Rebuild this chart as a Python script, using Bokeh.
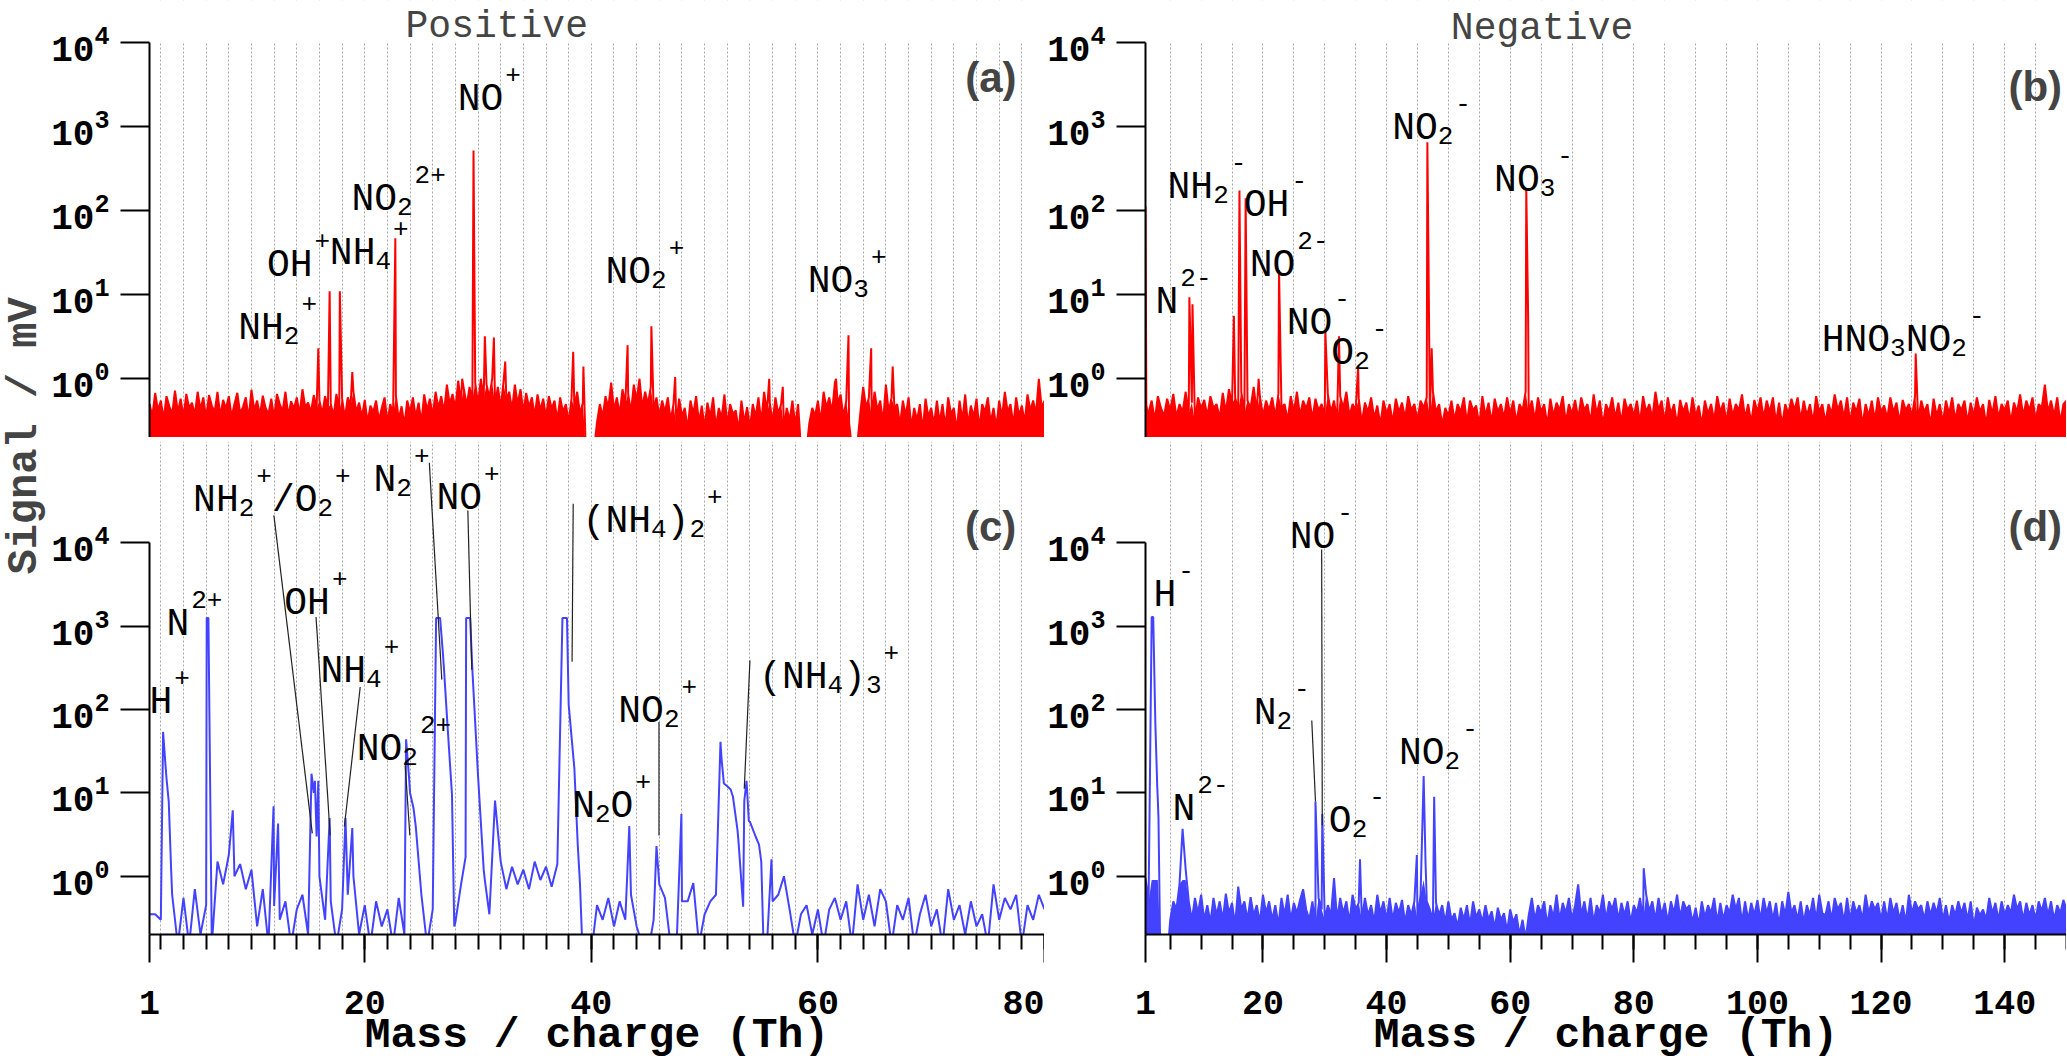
import numpy as np
from bokeh.core.properties import value
from bokeh.embed import file_html
from bokeh.layouts import column, row
from bokeh.models import BoxAnnotation, ColumnDataSource, FixedTicker, Label, Range1d
from bokeh.plotting import figure
from bokeh.resources import INLINE

RED = "#ff0000"
BLUE = "#4343ff"
MONO = "Liberation Mono"

# ---------------- (a) positive ions, red ----------------
# spectrum read every 0.25 Th from m/z 1, plus the sharp peak tops in between
a_step = 0.25
a_base = [
    0.5, 0.36, 0.68, 0.42, 0.55, 0.33, 0.62, 0.47, 0.38, 0.72, 0.4, 0.58, 0.35, 0.66, 0.45, 0.52, 0.37, 0.7, 0.43, 0.6,
    0.34, 0.64, 0.48, 0.4, 0.7, 0.36, 0.56, 0.44, 0.62, 0.35, 0.5, 0.68, 0.39, 0.46, 0.6, 0.33, 0.74, 0.42, 0.55, 0.37,
    0.63, 0.45, 0.38, 0.58, 0.34, 0.66, 0.5, 0.41, 0.7, 0.36, 0.54, 0.44, 0.6, 0.38, 0.75, 0.46, 0.52, 0.4, 0.64, 0.44,
    0.55, 0.38, 0.62, 0.45, 0.5, 0.36, 0.66, 0.42, 0.58, 0.34, 0.6, 0.48, 0.7, 0.4, 0.52, 0.35, 0.56, 0.3, 0.48, 0.4,
    0.55, 0.32, 0.45, 0.6, 0.3, 0.5, 0.38, 0.62, 0.33, 0.47, 0.28, 0.55, 0.4, 0.6, 0.35, 0.52, 0.3, 0.65, 0.42, 0.58,
    0.36, 0.7, 0.45, 0.62, 0.4, 0.85, 0.5, 0.66, 0.44, 0.95, 0.52, 0.75, 0.48, 0.8, 0.55, 0.9, 0.5, 1.0, 0.58, 0.85,
    0.6, 1.0, 0.5, 0.8, 0.45, 0.92, 0.55, 0.7, 0.42, 0.85, 0.5, 0.75, 0.4, 0.68, 0.46, 0.6, 0.36, 0.65, 0.42, 0.58,
    0.35, 0.62, 0.44, 0.55, 0.32, 0.6, 0.4, 0.5, 0.3, 0.58, 0.45, 0.7, 0.38, 0.52, 0.15, 0.2, 0.15, 0.15, 0.3, 0.5,
    0.35, 0.62, 0.45, 0.9, 0.42, 0.6, 0.38, 0.75, 0.5, 0.66, 0.4, 0.85, 0.55, 1.0, 0.45, 0.7, 0.5, 0.8, 0.42, 0.6,
    0.36, 0.55, 0.4, 0.6, 0.32, 0.5, 0.28, 0.58, 0.36, 0.45, 0.25, 0.55, 0.38, 0.62, 0.3, 0.48, 0.26, 0.52, 0.35, 0.6,
    0.26, 0.45, 0.34, 0.65, 0.28, 0.5, 0.38, 0.42, 0.24, 0.55, 0.3, 0.46, 0.26, 0.5, 0.35, 0.6, 0.3, 0.7, 0.4, 0.52,
    0.3, 0.6, 0.38, 0.5, 0.26, 0.45, 0.32, 0.55, 0.28, 0.5, 0.15, 0.18, 0.15, 0.3, 0.45, 0.36, 0.55, 0.3, 0.7, 0.45,
    0.6, 0.4, 0.9, 0.5, 0.65, 0.35, 0.55, 0.3, 0.15, 0.15, 0.18, 0.4, 0.8, 0.45, 0.6, 0.35, 0.7, 0.42, 0.55, 0.3,
    0.85, 0.4, 0.6, 0.45, 0.5, 0.28, 0.55, 0.36, 0.6, 0.26, 0.45, 0.32, 0.5, 0.24, 0.58, 0.35, 0.45, 0.28, 0.55, 0.3,
    0.5, 0.26, 0.6, 0.38, 0.45, 0.24, 0.55, 0.32, 0.65, 0.28, 0.48, 0.35, 0.58, 0.25, 0.5, 0.4, 0.6, 0.3, 0.45, 0.26,
    0.55, 0.35, 0.7, 0.4, 0.5, 0.28, 0.6, 0.36, 0.48, 0.3, 0.65, 0.42, 0.55, 0.38, 1.0, 0.45, 0.55,
]
a_peak_mz = [15.9, 16.9, 17.8, 18.9, 22.7, 28.6, 29.6, 30.6, 31.4, 32.4, 38.4, 39.3,
             43.2, 45.3, 47.4, 55.7, 56.9, 61.6, 62.7, 64.7, 66.6]
a_peak_int = [2.3, 11, 11, 1.2, 47, 1.0, 520, 3.2, 3.1, 1.6, 2.1, 1.4,
              2.5, 4.2, 1.05, 1.0, 0.8, 1.0, 3.3, 2.3, 1.4]
a_lab_text = ["NH_2^+", "OH^+", "NH_4^+", "NO_2^{2+}", "NO^+", "NO_2^+", "NO_3^+"]
a_lab_mz = [8.83, 11.37, 16.92, 18.82, 28.2, 41.25, 59.1]
a_lab_y = [3.94, 22.1, 30.8, 135, 2080, 18.3, 14.3]

# ---------------- (b) negative ions, red ----------------
b_step = 0.5
b_base = [
    0.6, 0.4, 0.55, 0.32, 0.62, 0.45, 0.36, 0.58, 0.42, 0.66, 0.35, 0.5, 0.4, 0.7, 0.38, 0.52, 0.3, 0.6, 0.44, 0.56,
    0.36, 0.62, 0.45, 0.5, 0.34, 0.68, 0.4, 0.75, 0.5, 0.6, 0.42, 0.7, 0.38, 0.55, 0.45, 0.8, 0.4, 0.62, 0.36, 0.55,
    0.42, 0.6, 0.35, 0.66, 0.45, 0.5, 0.32, 0.62, 0.4, 0.7, 0.36, 0.55, 0.44, 0.6, 0.33, 0.58, 0.42, 0.5, 0.36, 0.65,
    0.4, 0.55, 0.32, 0.62, 0.45, 0.7, 0.36, 0.5, 0.42, 0.58, 0.3, 0.52, 0.4, 0.6, 0.34, 0.48, 0.28, 0.55, 0.38, 0.5,
    0.3, 0.58, 0.4, 0.52, 0.34, 0.62, 0.42, 0.5, 0.32, 0.55, 0.45, 0.6, 0.36, 0.7, 0.4, 0.5, 0.28, 0.45, 0.36, 0.55,
    0.32, 0.5, 0.4, 0.6, 0.3, 0.55, 0.42, 0.48, 0.28, 0.62, 0.36, 0.52, 0.3, 0.58, 0.4, 0.5, 0.34, 0.6, 0.38, 0.55,
    0.3, 0.5, 0.42, 0.7, 0.38, 0.55, 0.32, 0.6, 0.4, 0.5, 0.28, 0.58, 0.36, 0.52, 0.42, 0.62, 0.3, 0.5, 0.38, 0.56,
    0.34, 0.6, 0.42, 0.5, 0.3, 0.65, 0.38, 0.55, 0.28, 0.5, 0.4, 0.6, 0.34, 0.52, 0.3, 0.58, 0.42, 0.5, 0.36, 0.55,
    0.3, 0.62, 0.4, 0.5, 0.34, 0.7, 0.42, 0.55, 0.3, 0.6, 0.38, 0.5, 0.28, 0.56, 0.4, 0.52, 0.32, 0.6, 0.36, 0.48,
    0.28, 0.55, 0.38, 0.5, 0.32, 0.62, 0.4, 0.52, 0.3, 0.58, 0.36, 0.5, 0.42, 0.65, 0.34, 0.5, 0.3, 0.56, 0.4, 0.6,
    0.34, 0.55, 0.4, 0.6, 0.3, 0.52, 0.28, 0.5, 0.38, 0.58, 0.42, 0.6, 0.32, 0.55, 0.36, 0.5, 0.3, 0.62, 0.4, 0.5,
    0.3, 0.5, 0.38, 0.65, 0.42, 0.55, 0.34, 0.6, 0.3, 0.52, 0.4, 0.58, 0.28, 0.5, 0.36, 0.55, 0.32, 0.6, 0.4, 0.48,
    0.34, 0.6, 0.4, 0.52, 0.3, 0.56, 0.42, 0.5, 0.36, 0.62, 0.32, 0.55, 0.4, 0.5, 0.28, 0.58, 0.36, 0.5, 0.3, 0.55,
    0.38, 0.6, 0.32, 0.5, 0.42, 0.55, 0.3, 0.52, 0.36, 0.6, 0.4, 0.5, 0.28, 0.56, 0.38, 0.62, 0.34, 0.5, 0.42, 0.55,
    0.3, 0.52, 0.4, 0.65, 0.36, 0.55, 0.42, 0.6, 0.32, 0.5, 0.45, 0.85, 0.4, 0.55, 0.36, 0.6, 0.3, 0.5, 0.55,
]
b_peak_mz = [1.0, 1.15, 8.1, 8.6, 15.3, 16.2, 17.2, 19.3, 22.6, 30.1, 32.3, 35.4,
             46.6, 46.8, 47.3, 62.6, 62.9, 125.6]
b_peak_int = [112, 0.3, 9.3, 7.7, 5.6, 174, 140, 1.0, 19.5, 3.6, 3.2, 1.4,
              650, 20, 2.3, 186, 5.8, 2.0]
b_lab_text = ["N^{2-}", "NH_2^-", "OH^-", "NO^{2-}", "NO^-", "O_2^-", "NO_2^-", "NO_3^-", "HNO_3NO_2^-"]
b_lab_mz = [2.62, 4.57, 16.9, 17.86, 23.85, 31.07, 40.9, 57.4, 110.4]
b_lab_y = [8.0, 189, 115, 22.1, 4.52, 1.99, 946, 228, 2.83]

# ---------------- (c) positive ions, blue ----------------
c_step = 0.5
c_base = [
    0.35, 0.35, 0.3, 15, 0.6, 0.15, 0.55, 0.15, 0.7, 0.2,
    0.45, 0.15, 1.5, 0.8, 1.8, 1.0, 1.4, 0.7, 1.2, 0.25,
    0.7, 0.15, 0.44, 0.3, 0.5, 0.15, 0.4, 0.6, 0.2, 10,
    1.0, 0.3, 0.5, 0.15, 0.4, 0.6, 1.0, 0.2, 0.45, 0.15,
    0.5, 0.25, 0.4, 0.15, 0.55, 0.2, 10, 4, 0.6, 0.15,
    0.4, 1260, 300, 25, 0.28, 0.8, 1260, 300, 16, 1.2,
    0.35, 8.1, 1.5, 0.7, 1.3, 0.8, 1.2, 0.7, 1.5, 0.9,
    1.3, 0.75, 1.4, 1260, 115, 20, 0.8, 0.1, 0.12, 0.45,
    0.3, 0.55, 0.25, 0.5, 0.3, 0.6, 0.25, 0.15, 0.12, 0.3,
    0.8, 0.55, 0.15, 0.12, 0.5, 0.5, 0.83, 0.15, 0.35, 0.5,
    0.6, 25, 12, 9, 2.5, 8, 4.5, 3.0, 1.5, 0.15,
    0.5, 0.6, 1.0, 0.4, 0.15, 0.35, 0.45, 0.2, 0.4, 0.15,
    0.4, 0.55, 0.3, 0.5, 0.15, 0.8, 0.3, 0.6, 0.25, 0.7,
    0.5, 0.15, 0.45, 0.3, 0.55, 0.15, 0.35, 0.6, 0.25, 0.4,
    0.15, 0.7, 0.3, 0.45, 0.2, 0.5, 0.25, 0.35, 0.15, 0.8,
    0.3, 0.55, 0.4, 0.6, 0.15, 0.45, 0.3, 0.6, 0.4,
]
c_peak_mz = [2.2, 2.35, 2.7, 2.9, 6.05, 6.2, 8.35, 11.95, 12.35, 15.3, 15.6, 15.75, 15.9,
             16.9, 18.3, 18.9, 23.65, 23.9, 24.3, 26.3, 26.65, 26.9, 27.3, 27.7, 27.9,
             28.9, 28.95, 29.3, 30.6, 37.45, 37.85, 38.4, 38.8, 39.2, 43.35, 45.75, 47.95,
             51.4, 51.7, 52.3, 52.9, 53.4, 53.7, 53.9, 54.8, 55.2, 55.9]
c_peak_int = [54, 28, 7.8, 1.3, 1260, 1260, 6.2, 6.9, 4.3, 17, 14, 3, 14,
              5, 5, 3.8, 44, 16, 6.6, 1260, 1260, 470, 66, 9.5, 0.25,
              1.7, 1260, 1260, 0.9, 1260, 1260, 28, 2.4, 0.15, 4.0, 2.3, 5.6,
              41, 13, 11, 3.6, 0.43, 14, 4.6, 2.4, 0.15, 1.6]
c_lab_text = ["H^+", "N^{2+}", "NH_2^+/O_2^+", "N_2^+", "NO^+", "(NH_4)_2^+", "OH^+",
              "NH_4^+", "NO_2^{2+}", "N_2O^+", "NO_2^+", "(NH_4)_3^+"]
c_lab_mz = [1.0, 2.49, 4.85, 20.77, 26.33, 39.23, 12.9, 16.09, 19.29, 38.31, 42.38, 54.81]
c_lab_y = [121, 1042, 32700, 56700, 33900, 18300, 1885, 285, 33.2, 6.79, 94.6, 244]
c_lead_x0 = [11.98, 15.7, 19.6, 23.57, 25.7, 29.1, 38.4, 45.97, 54.0]
c_lead_y0 = [21400, 1290, 187, 21.4, 91600, 24500, 29500, 71, 390]
c_lead_x1 = [15.37, 16.95, 18.2, 23.98, 26.8, 29.45, 38.3, 45.97, 53.5]
c_lead_y1 = [3.27, 3.09, 3.96, 3.09, 229, 300, 376, 3.09, 11.2]

# ---------------- (d) negative ions, blue ----------------
d_step = 0.5
d_base = [
    0.95, 0.5, 1290, 150, 8, 0.1, 0.1, 0.1, 0.3, 0.5, 0.4, 0.8, 3.7, 1.2, 0.5, 0.3, 0.55, 0.36, 0.6, 0.3,
    0.45, 0.28, 0.55, 0.34, 0.5, 0.3, 0.62, 0.36, 0.48, 0.26, 0.75, 0.4, 0.5, 0.3, 0.56, 0.34, 0.45, 0.28, 0.6, 0.36,
    0.5, 0.3, 0.45, 0.26, 0.55, 0.34, 0.6, 0.3, 0.48, 0.36, 0.52, 0.7, 0.4, 0.3, 0.5, 0.28, 0.55, 0.4, 0.3, 0.45,
    0.34, 0.95, 0.3, 0.55, 0.36, 0.5, 0.28, 0.6, 0.4, 0.48, 0.3, 0.55, 0.34, 0.45, 0.28, 0.6, 0.36, 0.5, 0.3, 0.55,
    0.3, 0.48, 0.36, 0.52, 0.28, 0.45, 0.34, 0.5, 0.3, 0.6, 16, 0.5, 0.4, 0.3, 0.48, 0.34, 0.45, 0.28, 0.5, 0.3,
    0.36, 0.25, 0.42, 0.3, 0.45, 0.26, 0.5, 0.32, 0.4, 0.28, 0.45, 0.3, 0.38, 0.24, 0.42, 0.3, 0.36, 0.22, 0.4, 0.28,
    0.35, 0.2, 0.3, 0.18, 0.34, 0.55, 0.3, 0.45, 0.36, 0.5, 0.26, 0.45, 0.32, 0.6, 0.3, 0.48, 0.36, 0.55, 0.3, 0.45,
    0.8, 0.34, 0.5, 0.3, 0.55, 0.28, 0.45, 0.36, 0.6, 0.3, 0.5, 0.4, 0.55, 0.3, 0.48, 0.34, 0.5, 0.28, 0.45, 0.36,
    0.55, 0.3, 0.6, 0.38, 0.5, 0.3, 0.55, 0.34, 0.48, 0.28, 0.5, 0.36, 0.6, 0.32, 0.5, 0.4, 0.45, 0.28, 0.42, 0.26,
    0.5, 0.32, 0.45, 0.36, 0.55, 0.28, 0.48, 0.3, 0.45, 0.36, 0.6, 0.4, 0.55, 0.28, 0.5, 0.3, 0.48, 0.34, 0.52, 0.3,
    0.55, 0.36, 0.5, 0.3, 0.48, 0.26, 0.5, 0.34, 0.65, 0.36, 0.45, 0.3, 0.5, 0.28, 0.45, 0.34, 0.55, 0.3, 0.6, 0.36,
    0.34, 0.5, 0.3, 0.55, 0.4, 0.48, 0.28, 0.55, 0.3, 0.5, 0.36, 0.45, 0.3, 0.6, 0.36, 0.5, 0.4, 0.48, 0.3, 0.5,
    0.3, 0.55, 0.36, 0.48, 0.3, 0.45, 0.28, 0.6, 0.36, 0.5, 0.4, 0.45, 0.3, 0.5, 0.34, 0.48, 0.36, 0.55, 0.3, 0.45,
    0.28, 0.45, 0.34, 0.5, 0.36, 0.48, 0.3, 0.5, 0.25, 0.42, 0.34, 0.4, 0.3, 0.55, 0.36, 0.48, 0.3, 0.5, 0.34, 0.45,
    0.36, 0.6, 0.4, 0.5, 0.3, 0.48, 0.34, 0.45, 0.3, 0.5, 0.38, 0.55, 0.34, 0.5, 0.3, 0.45, 0.36, 0.52, 0.4,
]
d_peak_mz = [2.25, 2.6, 2.9, 3.1, 3.4, 28.5, 29.6, 35.7, 44.9, 46.3, 47.7, 81.6]
d_peak_int = [1290, 66, 12, 5, 0.1, 7.9, 5.6, 1.6, 1.8, 1.5, 9, 1.25]
d_lab_text = ["H^-", "N^{2-}", "N_2^-", "NO^-", "O_2^-", "NO_2^-"]
d_lab_mz = [2.3, 5.38, 18.5, 24.34, 30.66, 42.0]
d_lab_y = [2345, 6.34, 90.3, 11500, 4.56, 29.7]
d_lead_x0 = [27.9, 29.5]
d_lead_y0 = [74, 8360]
d_lead_x1 = [28.5, 29.6]
d_lead_y1 = [7.9, 4.07]

FS_MAIN, FS_SMALL = 38, 26


def parse_formula(s):
    segs = []
    i = 0
    while i < len(s):
        c = s[i]
        if c in "_^":
            kind = "sub" if c == "_" else "sup"
            if s[i + 1] == "{":
                j = s.index("}", i)
                segs.append((s[i + 2:j], kind))
                i = j + 1
            else:
                segs.append((s[i + 1], kind))
                i += 2
        else:
            if segs and segs[-1][1] == "main":
                segs[-1] = (segs[-1][0] + c, "main")
            else:
                segs.append((c, "main"))
            i += 1
    return segs


def add_formulas(p, texts, xs, ys):
    parts = {k: {"x": [], "y": [], "dx": [], "text": []} for k in ("main", "sub", "sup")}
    for t, x, y in zip(texts, xs, ys):
        cursor = 0.0
        for seg, kind in parse_formula(t):
            if kind == "sup":
                cursor += 2
            d = parts[kind]
            d["x"].append(x)
            d["y"].append(y)
            d["dx"].append(cursor)
            d["text"].append(seg)
            cursor += len(seg) * 0.6 * (FS_MAIN if kind == "main" else FS_SMALL)
    for kind, dy, fs in (("main", 0, FS_MAIN), ("sub", 7, FS_SMALL), ("sup", -25, FS_SMALL)):
        src = ColumnDataSource(parts[kind])
        p.text(x="x", y="y", text="text", x_offset="dx", y_offset=dy, source=src,
               text_font=value(MONO), text_font_size=f"{fs}px", text_color="black",
               text_align="left", text_baseline="alphabetic")


def spectrum(step, base, peak_mz, peak_int):
    mz = 1.0 + step * np.arange(len(base))
    x = np.concatenate([mz, np.array(peak_mz, dtype=float)])
    y = np.concatenate([np.array(base, dtype=float), np.array(peak_int, dtype=float)])
    order = np.argsort(x, kind="stable")
    return mz, x[order], y[order]


def make_panel(xmax, ytop, width, height, bl, bt, bb, grid_step, xticks=None, xminor=None):
    p = figure(width=width, height=height, x_range=Range1d(1, xmax), y_range=Range1d(0.2, ytop),
               y_axis_type="log", toolbar_location=None, output_backend="svg",
               min_border_left=bl, min_border_right=0, min_border_top=bt, min_border_bottom=bb)
    p.outline_line_color = None
    p.background_fill_color = "white"
    p.ygrid.visible = False
    p.xgrid.ticker = FixedTicker(ticks=list(np.arange(grid_step, xmax + 0.01, grid_step)))
    p.xgrid.grid_line_color = "#a8a8a8"
    p.xgrid.grid_line_dash = "2 2"
    p.xgrid.grid_line_width = 1

    ya = p.yaxis[0]
    ya.ticker = FixedTicker(ticks=[1, 10, 100, 1000, 10000])
    ya.bounds = (0.2, 10000)
    ya.axis_line_width = 2
    ya.major_tick_line_width = 2
    ya.major_tick_out = 29
    ya.major_tick_in = 0
    ya.minor_tick_line_color = None
    ya.major_label_standoff = 11
    ya.major_label_text_font = MONO
    ya.major_label_text_font_style = "bold"
    ya.major_label_text_font_size = "36px"
    ya.major_label_text_color = "black"

    xa = p.xaxis[0]
    if xticks is None:
        xa.visible = False
        # the panel frame reaches above 10^4 to hold the title; keep that strip plain
        p.add_layout(BoxAnnotation(bottom=1e4, fill_color="white", fill_alpha=1.0,
                                   line_color=None, level="underlay"))
    else:
        xa.ticker = FixedTicker(ticks=xticks, minor_ticks=xminor)
        xa.axis_line_width = 2
        xa.major_tick_line_width = 2
        xa.minor_tick_line_width = 2
        xa.major_tick_out = 28
        xa.major_tick_in = 0
        xa.minor_tick_out = 15
        xa.minor_tick_in = 0
        xa.major_label_standoff = 28
        xa.major_label_text_font = MONO
        xa.major_label_text_font_style = "bold"
        xa.major_label_text_font_size = "35px"
        xa.major_label_text_color = "black"
        xa.axis_label = "Mass / charge (Th)"
        xa.axis_label_standoff = -6
        xa.axis_label_text_font = MONO
        xa.axis_label_text_font_style = "bold"
        xa.axis_label_text_font_size = "43px"
        xa.axis_label_text_color = "black"
    return p


def draw_spectrum(p, step, base, peak_mz, peak_int, color, band=None):
    mz, x, y = spectrum(step, base, peak_mz, peak_int)
    if band is not None:
        p.varea(x=mz, y1=0.1, y2=np.minimum(np.array(base, dtype=float), band),
                fill_color=color, fill_alpha=1.0)
    p.line(x=x, y=y, line_color=color, line_width=2)


def panel_letter(p, text, x, y):
    p.add_layout(Label(x=x, y=y, text=text, text_font="Liberation Sans", text_font_style="bold",
                       text_font_size="42px", text_baseline="middle", text_align="left"))


def panel_title(p, text, x, y):
    p.add_layout(Label(x=x, y=y, text=text, text_font=MONO, text_font_size="38px",
                       text_baseline="alphabetic", text_align="left"))


W_SIDE, W_LEFT, W_RIGHT = 48, 996, 1022
H_TOP, H_BOT = 437, 625

pa = make_panel(80, 10 ** 4.5, W_LEFT, H_TOP, 100, 0, 0, 2)
draw_spectrum(pa, a_step, a_base, a_peak_mz, a_peak_int, RED, band=0.9)
add_formulas(pa, a_lab_text, a_lab_mz, a_lab_y)
panel_letter(pa, "(a)", 73.0, 3830)
panel_title(pa, "Positive", 23.6, 15500)

pb = make_panel(150, 10 ** 4.5, W_RIGHT, H_TOP, 100, 0, 0, 5)
draw_spectrum(pb, b_step, b_base, b_peak_mz, b_peak_int, RED, band=0.9)
add_formulas(pb, b_lab_text, b_lab_mz, b_lab_y)
panel_letter(pb, "(b)", 140.6, 2990)
panel_title(pb, "Negative", 50.4, 14700)

pc = make_panel(80, 1.65e5, W_LEFT, H_BOT, 100, 4, 127, 2,
                xticks=[1, 20, 40, 60, 80], xminor=list(range(2, 81, 2)))
draw_spectrum(pc, c_step, c_base, c_peak_mz, c_peak_int, BLUE)
pc.segment(x0=c_lead_x0, y0=c_lead_y0, x1=c_lead_x1, y1=c_lead_y1, line_color="#222222", line_width=1.2)
add_formulas(pc, c_lab_text, c_lab_mz, c_lab_y)
panel_letter(pc, "(c)", 72.98, 15900)

pd = make_panel(150, 1.65e5, W_RIGHT, H_BOT, 100, 4, 127, 5,
                xticks=[1, 20, 40, 60, 80, 100, 120, 140], xminor=list(range(5, 151, 5)))
draw_spectrum(pd, d_step, d_base, d_peak_mz, d_peak_int, BLUE, band=0.9)
pd.segment(x0=d_lead_x0, y0=d_lead_y0, x1=d_lead_x1, y1=d_lead_y1, line_color="#222222", line_width=1.2)
add_formulas(pd, d_lab_text, d_lab_mz, d_lab_y)
panel_letter(pd, "(d)", 140.6, 15900)

side = figure(width=W_SIDE, height=H_TOP + H_BOT, x_range=Range1d(0, 1), y_range=Range1d(0, 1),
              toolbar_location=None, output_backend="svg", min_border=0)
side.axis.visible = False
side.grid.visible = False
side.outline_line_color = None
side.add_layout(Label(x=0.5, y=0.59, text="Signal / mV", angle=np.pi / 2, text_font=MONO,
                      text_font_style="bold", text_font_size="42px",
                      text_align="center", text_baseline="middle"))

layout = row(side, column(pa, pc), column(pb, pd))
open("out.html", "w").write(file_html(layout, INLINE))
